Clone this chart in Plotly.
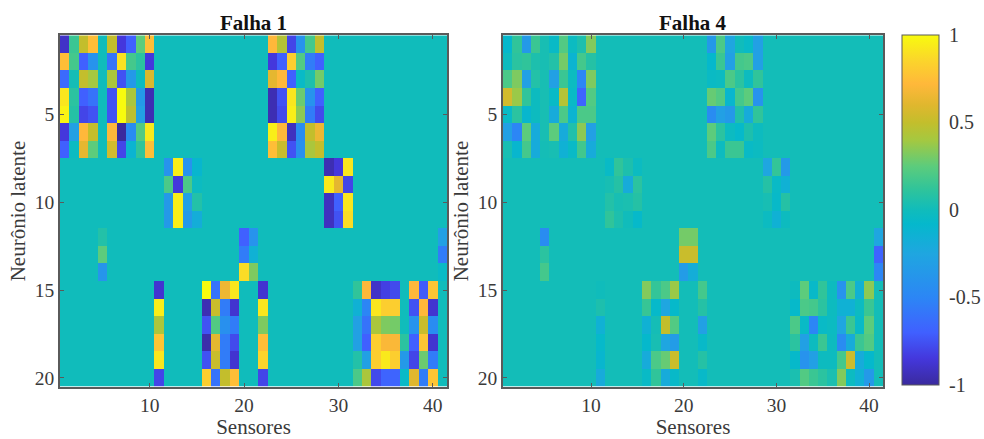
import numpy as np
import plotly.graph_objects as go

N_ROWS = 20
N_COLS = 41
BASE_F1 = 0.0
BASE_F4 = 0.012

# Falha 1: blocks of values
f1_a = [[-0.9,0.15,0.5,0.75,0,0.5,-0.85,-0.7,0.25,0.75],
        [0.75,0.18,-0.7,-0.4,0,-0.6,0.9,0.18,0.1,-0.85],
        [-0.65,0.02,0.5,0.4,0,0.42,-0.75,-0.35,-0.02,0.58],
        [0.92,0.1,-0.7,-0.6,0,-0.75,1,0.42,-0.35,-0.95],
        [0.97,0.08,-0.8,-0.75,0,-0.75,1,0.48,-0.3,-0.95],
        [-0.85,-0.3,0.72,0.5,0,0.72,-1,-0.45,0.22,0.93],
        [-0.7,-0.03,0.62,0.25,0,0.55,-0.8,-0.12,0.12,0.75]]
f1_b = [[-0.4,0.95,-0.4,-0.1],
        [0.2,-0.85,0.2,-0.03],
        [-0.35,0.95,-0.3,0.07],
        [-0.35,0.95,-0.35,-0.18]]
f1_c = [[0.72,0.45,-0.8,-0.4,0.18,0.5],
        [-0.85,-0.7,0.82,0.22,-0.55,-0.7],
        [0.62,0.72,-0.7,-0.05,0.05,0.3],
        [-0.95,-0.75,0.92,0.28,-0.4,-0.7],
        [-0.95,-0.78,0.95,0.35,-0.55,-0.78],
        [0.95,0.72,-0.92,-0.45,0.5,0.65],
        [0.75,0.52,-0.75,-0.42,0.42,0.5]]
f1_d = [[-0.95,-0.85,0.92],
        [0.93,0.62,-0.8],
        [-0.92,-0.7,0.92],
        [-0.92,-0.75,0.88]]
f1_e = [[0.07],[0.25],[-0.38]]
f1_f = [[-0.7,-0.4],[-0.55,-0.15],[0.88,0.32]]
f1_g = [[-0.3],[-0.55],[-0.05]]
f1_h = [[-0.88],[0.95],[0.42],[0.78],[0.92],[-0.8]]
f1_i = [[1.0,-0.6,0.65,0.92],
        [-0.95,0.52,-0.55,-0.88],
        [-0.75,0.22,-0.42,-0.55],
        [-0.97,0.62,-0.55,-0.78],
        [-0.75,0.52,-0.55,-0.88],
        [0.82,-0.6,0.5,0.75]]
f1_j = [[-0.88],[0.92],[0.32],[0.75],[0.85],[-0.8]]
f1_k = [[0.12,0.72,-0.9,-0.82,-0.78,0,0.72,-0.72,0.78],
        [-0.15,-0.5,0.92,0.82,0.82,0,-0.75,0.72,-0.88],
        [-0.3,-0.6,0.42,0.32,0.3,0,-0.4,0.52,-0.45],
        [-0.3,-0.7,0.82,0.7,0.7,0.1,-0.7,0.78,-0.88],
        [0.07,-0.3,0.82,0.93,0.82,-0.35,-0.8,0.28,-0.55],
        [0.2,0.42,-0.78,-0.68,-0.68,-0.05,0.6,-0.55,0.78]]

# Falha 4
f4_a = [[-0.08,0.12,-0.35,0.15,0.03,-0.05,0.22,-0.03,0.05,0.33],
        [-0.02,0.1,0.12,0.05,0.03,0.07,0.3,-0.12,0.18,0.08],
        [0.2,0.32,-0.3,0.07,0.03,-0.3,0.15,-0.03,-0.5,0.32],
        [0.55,0.38,0.12,-0.02,0.03,-0.05,0.45,-0.05,-0.68,0.22],
        [-0.05,0.1,-0.1,-0.02,0.03,-0.2,0.2,-0.12,0.2,0.2],
        [-0.3,-0.5,0.25,-0.2,0.03,0.25,-0.2,0.06,0.35,-0.3],
        [0.03,-0.1,0.18,-0.2,0.02,0.03,-0.15,-0.05,0.17,-0.2]]
f4_b = [[-0.05,0.12,0.05,-0.03],
        [0.03,0.08,-0.2,0.1],
        [0.07,0.03,0.04,0.08],
        [0.12,0.05,0.0,-0.07]]
f4_c = [[-0.35,0.2,-0.25,-0.0,-0.05,-0.3],
        [-0.08,0.15,-0.3,0.18,0.2,-0.3],
        [-0.04,-0.03,0.2,0.1,-0.02,0.12],
        [0.27,0.22,-0.1,0.18,0.25,-0.4],
        [-0.45,-0.3,-0.35,0.06,-0.2,0.12],
        [0.25,0.1,-0.03,-0.07,0.05,-0.02],
        [0.2,-0.02,0.15,0.15,-0.05,-0.03]]
f4_d = [[-0.25,0.13,-0.35],
        [0.08,-0.05,-0.15],
        [0.03,-0.06,0.08],
        [-0.03,-0.15,-0.02]]
f4_e = [[-0.45],[0.1],[0.18]]
f4_f = [[0.3,0.3],[0.52,0.52],[-0.33,-0.18]]
f4_g = [[-0.25],[-0.68],[-0.5]]
f4_h = [[0.0],[0.05],[-0.15],[-0.07],[-0.1],[-0.2]]
f4_i = [[0.33,0.13,0.2,0.38],
        [0.14,-0.07,-0.25,-0.07],
        [-0.15,0.02,0.5,0.22],
        [-0.08,0.03,-0.25,-0.33],
        [-0.2,0.2,0.27,0.52],
        [-0.05,0.12,-0.2,-0.06]]
f4_j = [[0.18],[0.08],[-0.3],[-0.06],[0.08],[-0.06]]
f4_k = [[-0.02,0.25,-0.06,0.12,-0.02,-0.4,0.2,-0.15,0.35],
        [-0.07,0.2,0.18,0.1,-0.02,-0.15,-0.15,-0.03,0.15],
        [0.2,-0.05,-0.5,-0.05,-0.03,-0.25,0.15,-0.05,0.25],
        [0.1,-0.3,-0.02,0.15,-0.02,-0.45,-0.2,0.15,0.22],
        [-0.07,-0.4,-0.3,-0.02,-0.02,0.18,0.53,-0.2,-0.08],
        [0.04,0.22,0.15,0.1,0.04,0.33,-0.03,-0.15,-0.35]]

# (first row, first column) of each block, 1-based, shared by both panels
block_origin = {"a": (1, 1), "b": (8, 12), "c": (1, 23), "d": (8, 29), "e": (12, 5),
                "f": (12, 20), "g": (12, 41), "h": (15, 11), "i": (15, 16),
                "j": (15, 22), "k": (15, 32)}

def assemble(blocks, base):
    z = np.full((N_ROWS, N_COLS), base, dtype=float)
    for key, block in blocks.items():
        r0, c0 = block_origin[key]
        arr = np.array(block, dtype=float)
        z[r0 - 1:r0 - 1 + arr.shape[0], c0 - 1:c0 - 1 + arr.shape[1]] = arr
    return z

z1 = assemble(dict(a=f1_a, b=f1_b, c=f1_c, d=f1_d, e=f1_e, f=f1_f, g=f1_g, h=f1_h, i=f1_i, j=f1_j, k=f1_k), BASE_F1)
z4 = assemble(dict(a=f4_a, b=f4_b, c=f4_c, d=f4_d, e=f4_e, f=f4_f, g=f4_g, h=f4_h, i=f4_i, j=f4_j, k=f4_k), BASE_F4)

titles = ["Falha 1", "Falha 4"]
x_title = "Sensores"
y_title = "Neurônio latente"
x_ticks = [10, 20, 30, 40]
y_ticks = [5, 10, 15, 20]
cbar_ticks = [-1, -0.5, 0, 0.5, 1]
cbar_labels = ["-1", "-0.5", "0", "0.5", "1"]

W, H = 984, 439
FONT = "Liberation Serif"
TXT = "#3a3a3a"
FRAME = "#5a5a5a"

scale_pts = [(-1.0, "#3A2A9E"), (-0.85, "#4437DC"), (-0.7, "#4060FF"), (-0.5, "#2C86F5"),
             (-0.25, "#1FA6E0"), (-0.08, "#05B8CC"), (0.0, "#10BCBB"), (0.12, "#30C49A"),
             (0.25, "#5CCC7C"), (0.4, "#A5C840"), (0.5, "#C3BE2C"), (0.6, "#E0B72E"),
             (0.72, "#FFB83A"), (0.85, "#FBD42C"), (1.0, "#F8FB0E")]
colorscale = [[(v + 1) / 2, c] for v, c in scale_pts]

dom1 = [60 / W, 447 / W]
dom2 = [503 / W, 883 / W]
dom_y = [1 - 388.5 / H, 1 - 35.5 / H]
cb_bottom = 1 - 386.5 / H
cb_len = 352 / H

fig = go.Figure()
x = list(range(1, N_COLS + 1))
y = list(range(1, N_ROWS + 1))
fig.add_trace(go.Heatmap(z=z1, x=x, y=y, xaxis="x", yaxis="y", zmin=-1, zmax=1,
                         colorscale=colorscale, showscale=False))
fig.add_trace(go.Heatmap(z=z4, x=x, y=y, xaxis="x2", yaxis="y2", zmin=-1, zmax=1,
                         colorscale=colorscale, showscale=True,
                         colorbar=dict(x=902 / W, xanchor="left", xpad=0, ypad=0,
                                       y=cb_bottom, yanchor="bottom", len=cb_len, lenmode="fraction",
                                       thickness=37, thicknessmode="pixels",
                                       tickvals=cbar_ticks, ticktext=cbar_labels,
                                       ticks="outside", ticklen=6, tickcolor="rgba(0,0,0,0)",
                                       outlinecolor=FRAME, outlinewidth=1,
                                       tickfont=dict(family=FONT, size=20, color=TXT))))

axis_common = dict(showline=True, linecolor=FRAME, linewidth=1.5, mirror="ticks",
                   ticks="inside", ticklen=4, tickcolor=FRAME, showgrid=False, zeroline=False,
                   tickfont=dict(family=FONT, size=19.5, color=TXT), tickmode="array")

xa = dict(axis_common, range=[0.5, 41.5], tickvals=x_ticks,
          title=dict(text=x_title, font=dict(family=FONT, size=21, color=TXT), standoff=7))
ya = dict(axis_common, range=[20.5, 0.5], tickvals=y_ticks,
          title=dict(text=y_title, font=dict(family=FONT, size=21, color=TXT), standoff=3))

# small inward tick marks on the colour bar, placed from the tick values
cbar_marks = [dict(type="line", xref="paper", yref="paper",
                   x0=936 / W, x1=939 / W,
                   y0=cb_bottom + (v + 1) / 2 * cb_len, y1=cb_bottom + (v + 1) / 2 * cb_len,
                   line=dict(color=FRAME, width=1)) for v in cbar_ticks[1:-1]]

fig.update_layout(
    width=W, height=H, autosize=False,
    margin=dict(l=0, r=0, t=0, b=0),
    paper_bgcolor="white", plot_bgcolor="white",
    xaxis=dict(xa, domain=dom1, anchor="y"),
    yaxis=dict(ya, domain=dom_y, anchor="x"),
    xaxis2=dict(xa, domain=dom2, anchor="y2"),
    yaxis2=dict(ya, domain=dom_y, anchor="x2"),
    shapes=cbar_marks,
    annotations=[
        dict(text="<b>%s</b>" % titles[0], x=sum(dom1) / 2, y=1 - 23 / H, xref="paper", yref="paper",
             xanchor="center", yanchor="middle", showarrow=False,
             font=dict(family=FONT, size=21, color="#111111")),
        dict(text="<b>%s</b>" % titles[1], x=sum(dom2) / 2, y=1 - 23 / H, xref="paper", yref="paper",
             xanchor="center", yanchor="middle", showarrow=False,
             font=dict(family=FONT, size=21, color="#111111")),
    ],
)
fig.write_html("out.html", config={"displayModeBar": False}, post_script="document.body.style.margin='0';")
